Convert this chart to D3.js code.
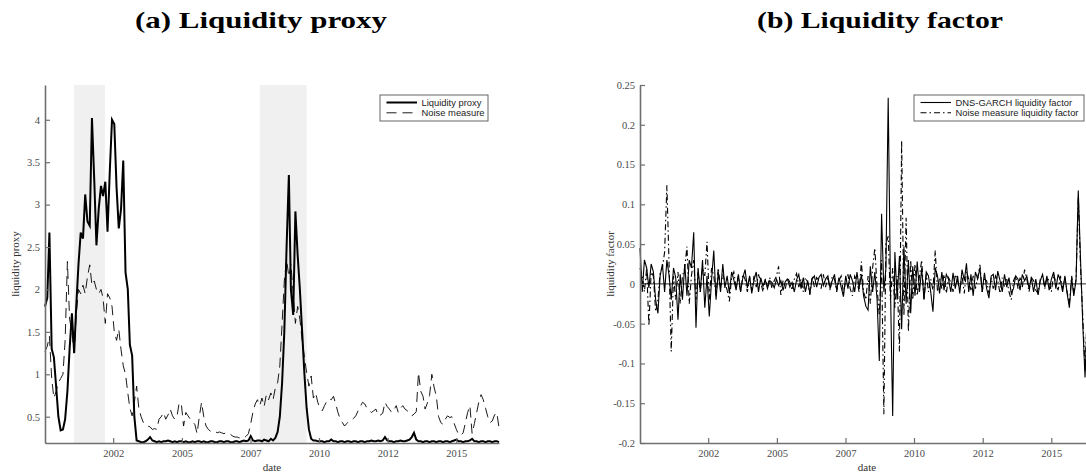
<!DOCTYPE html>
<html>
<head>
<meta charset="utf-8">
<script src="https://cdn.jsdelivr.net/npm/d3@7"></script>
<style>
  html, body { margin: 0; padding: 0; background: #fff; }
  svg { display: block; }
</style>
</head>
<body>
<svg id="fig" width="1086" height="474"></svg>
<script>
// Monthly observations, January 2000 to December 2016
const months = d3.timeMonth.range(new Date(2000, 0, 1), new Date(2017, 0, 1));

// (a) liquidity proxy and the noise measure
const liquidityProxy = [
  1.8, 1.9, 2.67, 1.3, 1.2, 0.85, 0.5, 0.34, 0.35, 0.47,
  0.8, 1.3, 1.72, 1.25, 1.8, 2.3, 2.67, 2.6, 3.12, 2.8,
  2.75, 4.02, 3.3, 2.52, 2.95, 3.22, 3.1, 3.27, 2.68, 3.4,
  4.0, 3.95, 3.2, 2.72, 2.95, 3.52, 2.2, 2.0, 1.35, 1.22,
  0.5, 0.22, 0.21, 0.2, 0.2, 0.21, 0.23, 0.26, 0.22, 0.21,
  0.2, 0.21, 0.2, 0.21, 0.21, 0.22, 0.21, 0.2, 0.21, 0.2,
  0.21, 0.21, 0.2, 0.21, 0.2, 0.2, 0.21, 0.2, 0.21, 0.21,
  0.2, 0.21, 0.2, 0.2, 0.21, 0.21, 0.2, 0.2, 0.21, 0.21,
  0.2, 0.21, 0.21, 0.2, 0.2, 0.21, 0.21, 0.2, 0.21, 0.22,
  0.21, 0.22, 0.27, 0.22, 0.21, 0.22, 0.22, 0.21, 0.23, 0.22,
  0.21, 0.24, 0.22, 0.25, 0.32, 0.5, 0.9, 1.5, 2.5, 3.35,
  2.0, 1.7, 2.92, 2.4, 2.0, 1.5, 1.0, 0.6, 0.35, 0.24,
  0.22, 0.22, 0.21, 0.21, 0.21, 0.2, 0.21, 0.21, 0.23, 0.21,
  0.21, 0.2, 0.21, 0.21, 0.2, 0.21, 0.21, 0.2, 0.21, 0.21,
  0.2, 0.21, 0.21, 0.2, 0.21, 0.21, 0.22, 0.21, 0.21, 0.22,
  0.21, 0.22, 0.26, 0.22, 0.21, 0.21, 0.2, 0.21, 0.21, 0.22,
  0.21, 0.21, 0.22, 0.23, 0.26, 0.31, 0.23, 0.21, 0.21, 0.2,
  0.21, 0.21, 0.2, 0.21, 0.21, 0.2, 0.21, 0.21, 0.2, 0.21,
  0.21, 0.2, 0.21, 0.22, 0.23, 0.21, 0.21, 0.2, 0.21, 0.21,
  0.22, 0.24, 0.21, 0.21, 0.2, 0.21, 0.21, 0.2, 0.21, 0.21,
  0.2, 0.21, 0.21, 0.2
];

const noiseMeasure = [
  1.27, 1.33, 1.45, 0.95, 0.72, 0.8, 0.9, 0.95, 1.0, 1.4,
  2.33, 1.65, 1.5, 1.25, 1.7, 2.0, 1.95, 2.05, 1.95, 2.15,
  2.29, 2.05, 2.1, 2.0, 1.95, 2.0, 1.9, 1.6, 1.95, 1.9,
  1.8, 1.5, 1.4, 1.53, 1.29, 1.1, 1.0, 0.78, 0.6, 0.51,
  0.67, 0.86, 0.6, 0.5, 0.43, 0.4, 0.39, 0.38, 0.35, 0.36,
  0.35, 0.47, 0.5, 0.55, 0.47, 0.52, 0.59, 0.51, 0.47, 0.5,
  0.67, 0.63, 0.39, 0.55, 0.51, 0.47, 0.44, 0.41, 0.3, 0.5,
  0.67, 0.5, 0.39, 0.35, 0.33, 0.32, 0.33, 0.31, 0.32, 0.31,
  0.3, 0.31, 0.31, 0.29, 0.27, 0.26, 0.26, 0.25, 0.26, 0.25,
  0.27, 0.3, 0.42, 0.55, 0.65, 0.7, 0.63, 0.72, 0.62, 0.76,
  0.7, 0.78, 0.7, 0.84, 0.9, 1.1, 1.6, 2.1, 2.35, 2.15,
  2.3, 1.95, 1.6, 1.8, 1.65, 1.4, 1.2, 1.02, 0.86, 0.98,
  0.72, 0.78, 0.67, 0.6, 0.57, 0.63, 0.68, 0.71, 0.7, 0.74,
  0.65, 0.55, 0.47, 0.43, 0.39, 0.42, 0.45, 0.46, 0.48, 0.51,
  0.57, 0.62, 0.67, 0.65, 0.6, 0.57, 0.55, 0.57, 0.59, 0.51,
  0.52, 0.54, 0.67, 0.62, 0.59, 0.55, 0.58, 0.63, 0.55, 0.6,
  0.63, 0.59, 0.57, 0.55, 0.51, 0.53, 0.56, 1.02, 0.8, 0.74,
  0.59, 0.66, 0.75, 1.0, 0.85, 0.74, 0.5, 0.43, 0.41, 0.47,
  0.51, 0.49, 0.5, 0.42, 0.35, 0.29, 0.28, 0.31, 0.43, 0.55,
  0.63, 0.3, 0.42, 0.55, 0.67, 0.76, 0.7, 0.6, 0.5, 0.43,
  0.45, 0.52, 0.55, 0.37
];

// (b) liquidity factors
const dnsFactor = [
  0.045, -0.01, 0.03, 0.02, -0.005, 0.025, 0.015, -0.02, -0.037, 0.01,
  0.025, -0.01, 0.03, 0.01, -0.02, 0.02, 0.008, -0.045, 0.012, -0.02,
  0.025, -0.015, 0.03, 0.02, 0.065, -0.055, 0.02, -0.01, 0.03, -0.03,
  0.01, -0.041, 0.005, 0.042, -0.02, 0.015, -0.01, 0.025, -0.005, 0.01,
  -0.012, 0.015, 0.005, -0.008, 0.012, -0.01, 0.008, 0.018, -0.005, 0.01,
  -0.012, 0.005, 0.015, -0.01, 0.008, -0.003, 0.005, -0.006, 0.004, 0.002,
  -0.005, 0.006, -0.002, 0.004, -0.008, 0.003, 0.006, -0.004, 0.002, -0.01,
  0.005, 0.012, -0.006, 0.008, -0.01, 0.004, -0.012, 0.006, 0.01, -0.004,
  0.008, 0.012, -0.002, 0.006, 0.01, -0.006, 0.004, 0.012, -0.008, 0.008,
  -0.004, -0.016, 0.01, -0.006, 0.012, 0.004, -0.01, 0.015, -0.005, 0.012,
  -0.015, -0.028, -0.033, 0.022, -0.01, 0.015, -0.02, -0.097, 0.088, -0.01,
  0.02, 0.234, 0.0, -0.166, 0.04, -0.02, 0.035, -0.057, 0.047, -0.025,
  0.03, -0.037, 0.022, -0.015, 0.028, -0.01, 0.02, -0.02, 0.015, 0.01,
  -0.01, -0.035, 0.02, 0.01, -0.012, 0.015, -0.008, 0.012, 0.006, -0.01,
  0.014, -0.006, 0.01, -0.012, 0.018, 0.004, 0.026, -0.01, 0.012, -0.015,
  0.015, 0.006, 0.02, -0.01, 0.014, -0.006, -0.018, 0.01, 0.012, -0.008,
  0.016, 0.004, -0.01, 0.012, -0.004, 0.008, -0.012, -0.006, 0.01, 0.006,
  -0.008, 0.012, 0.004, 0.01, -0.006, 0.008, -0.01, 0.006, -0.014, 0.004,
  0.012, -0.004, 0.01, -0.008, 0.006, 0.015, -0.006, 0.012, 0.004, -0.01,
  0.01, -0.012, -0.03, 0.008, -0.015, 0.005, 0.1175, 0.03, -0.05, -0.1175,
  -0.04, 0.02, -0.01, 0.005
];

const noiseFactor = [
  0.02, 0.01, -0.01, 0.02, -0.053, 0.015, 0.01, -0.035, -0.02, 0.015,
  0.02, 0.04, 0.124, 0.02, -0.085, 0.01, -0.02, 0.015, -0.025, 0.01,
  0.02, 0.047, -0.025, 0.01, 0.03, -0.02, 0.015, -0.01, 0.02, 0.01,
  0.053, -0.02, 0.02, 0.01, -0.015, 0.02, -0.005, 0.012, 0.003, -0.008,
  -0.022, 0.008, 0.015, -0.005, 0.01, -0.01, 0.012, 0.006, -0.01, 0.008,
  -0.008, 0.01, -0.004, 0.012, 0.002, -0.01, 0.006, -0.003, 0.008, -0.006,
  0.004, 0.01, 0.022, -0.014, 0.004, -0.006, 0.008, 0.002, -0.008, 0.006,
  0.013, -0.004, 0.006, -0.01, 0.008, 0.002, -0.014, 0.01, -0.004, 0.008,
  0.004, -0.006, 0.012, -0.004, 0.008, -0.008, 0.01, 0.006, -0.01, 0.004,
  0.01, -0.012, 0.004, 0.012, -0.006, -0.015, 0.01, 0.004, -0.01, 0.028,
  -0.01, -0.02, 0.01, -0.025, 0.02, 0.045, -0.005, -0.04, 0.03, -0.164,
  0.05, 0.06, -0.02, 0.02, -0.03, 0.01, -0.085, 0.18, -0.04, 0.083,
  -0.06, 0.03, -0.02, 0.025, -0.015, 0.01, 0.03, -0.02, 0.012, -0.01,
  0.006, -0.008, 0.042, -0.01, 0.008, -0.006, 0.012, -0.012, 0.008, 0.002,
  -0.01, 0.012, 0.004, -0.008, 0.01, -0.012, 0.016, 0.006, -0.008, 0.01,
  -0.006, 0.008, 0.024, -0.01, 0.006, 0.004, -0.012, 0.008, -0.006, 0.01,
  0.004, -0.012, 0.008, -0.004, 0.006, -0.01, -0.02, 0.004, 0.01, -0.006,
  0.008, -0.004, 0.018, 0.006, -0.01, 0.008, 0.004, -0.008, -0.012, 0.006,
  0.01, -0.006, 0.008, 0.004, -0.01, 0.012, 0.002, -0.008, 0.01, -0.006,
  0.008, -0.01, -0.025, 0.01, -0.012, 0.006, 0.11, 0.02, -0.04, -0.11,
  -0.03, 0.015, -0.008, 0.004
];

// Axis ticks and shaded periods
const xTickDates = ["2002-07-17", "2005-02-06", "2007-08-29", "2010-03-18", "2012-10-08", "2015-04-30"];
const proxyTicks = [0.5, 1, 1.5, 2, 2.5, 3, 3.5, 4];
const factorTicks = [-0.2, -0.15, -0.1, -0.05, 0, 0.05, 0.1, 0.15, 0.2, 0.25];
const shadedPeriods = [["2001-02-01", "2002-03-26"], ["2008-01-01", "2009-10-01"]];
const proxyRange = [0.19, 4.41];
const factorRange = [-0.2, 0.25];

const parseDate = d3.timeParse("%Y-%m-%d");
const svg = d3.select("#fig");

const serif = "'Liberation Serif', 'Times New Roman', serif";
const sans = "'Liberation Sans', Arial, Helvetica, sans-serif";
const axisGray = "#6f6f6f";
const labelGray = "#4a4a4a";

const plotTop = 85, plotBottom = 443, plotWidth = 454;

function drawPanel(opts) {
  const g = svg.append("g");
  const x = d3.scaleTime()
    .domain([months[0], months[months.length - 1]])
    .range([opts.left, opts.left + plotWidth]);
  const y = d3.scaleLinear().domain(opts.yDomain).range([plotBottom, plotTop]);

  // shaded periods
  (opts.shade || []).forEach(([a, b]) => {
    g.append("rect")
      .attr("x", x(parseDate(a)))
      .attr("y", plotTop)
      .attr("width", x(parseDate(b)) - x(parseDate(a)))
      .attr("height", plotBottom - plotTop)
      .attr("fill", "#f0f0f0");
  });

  // zero reference line
  if (opts.zeroLine) {
    g.append("line")
      .attr("x1", opts.left).attr("x2", opts.left + plotWidth)
      .attr("y1", y(0)).attr("y2", y(0))
      .attr("stroke", "#111").attr("stroke-width", 0.9);
  }

  // series
  opts.series.forEach(s => {
    const line = d3.line()
      .x((d, i) => x(months[i]))
      .y(d => y(d));
    g.append("path")
      .datum(s.values)
      .attr("d", line)
      .attr("fill", "none")
      .attr("stroke", "#000")
      .attr("stroke-width", s.width)
      .attr("stroke-linejoin", "miter")
      .attr("stroke-dasharray", s.dash || null);
  });

  // axes
  const xAxis = d3.axisBottom(x)
    .tickValues(xTickDates.map(parseDate))
    .tickFormat(d3.timeFormat("%Y"))
    .tickSizeInner(-5).tickSizeOuter(0).tickPadding(7);
  const yAxis = d3.axisLeft(y)
    .tickValues(opts.yTicks)
    .tickFormat(d => String(d))
    .tickSizeInner(-5).tickSizeOuter(0).tickPadding(5);

  const gx = g.append("g").attr("transform", `translate(0,${plotBottom})`).call(xAxis);
  const gy = g.append("g").attr("transform", `translate(${opts.left},0)`).call(yAxis);
  [gx, gy].forEach(a => {
    a.select(".domain").attr("stroke", axisGray).attr("stroke-width", 1.6);
    a.selectAll(".tick line").attr("stroke", axisGray).attr("stroke-width", 1.2);
    a.selectAll(".tick text")
      .attr("fill", labelGray)
      .style("font-family", serif)
      .style("font-size", "10.5px");
  });

  // axis titles
  g.append("text")
    .attr("x", opts.left + plotWidth / 2).attr("y", 471)
    .attr("text-anchor", "middle")
    .style("font-family", serif).style("font-size", "11px")
    .attr("fill", "#333")
    .text("date");
  g.append("text")
    .attr("transform", `translate(${opts.left - 26},${(plotTop + plotBottom) / 2}) rotate(-90)`)
    .attr("text-anchor", "middle")
    .style("font-family", serif).style("font-size", "11px")
    .attr("fill", "#333")
    .text(opts.yLabel);

  // panel title
  g.append("text")
    .attr("x", opts.titleX).attr("y", 28)
    .attr("text-anchor", "middle")
    .attr("textLength", opts.titleWidth)
    .attr("lengthAdjust", "spacingAndGlyphs")
    .style("font-family", serif).style("font-size", "23px").style("font-weight", "bold")
    .attr("fill", "#000")
    .text(opts.title);

  // legend
  const L = opts.legend;
  const lg = g.append("g");
  lg.append("rect")
    .attr("x", L.x).attr("y", 95).attr("width", L.w).attr("height", 26)
    .attr("fill", "#fff").attr("stroke", "#555").attr("stroke-width", 0.9);
  opts.series.forEach((s, k) => {
    const cy = 102.5 + k * 10.3;
    lg.append("line")
      .attr("x1", L.x + 6.5).attr("x2", L.x + 37)
      .attr("y1", cy).attr("y2", cy)
      .attr("stroke", "#000").attr("stroke-width", s.width)
      .attr("stroke-dasharray", s.dash || null);
    lg.append("text")
      .attr("x", L.x + 41.5).attr("y", cy + 3.3)
      .style("font-family", sans).style("font-size", "9.4px")
      .attr("fill", "#222")
      .text(s.name);
  });
}

drawPanel({
  left: 45,
  yDomain: proxyRange,
  yTicks: proxyTicks,
  yLabel: "liquidity proxy",
  title: "(a) Liquidity proxy",
  titleX: 261, titleWidth: 252,
  shade: shadedPeriods,
  legend: { x: 380, w: 108 },
  series: [
    { name: "Liquidity proxy", values: liquidityProxy, width: 2 },
    { name: "Noise measure", values: noiseMeasure, width: 0.9, dash: "10,6" }
  ]
});

drawPanel({
  left: 640,
  yDomain: factorRange,
  yTicks: factorTicks,
  yLabel: "liquidity factor",
  title: "(b) Liquidity factor",
  titleX: 880, titleWidth: 246,
  zeroLine: true,
  legend: { x: 914, w: 170 },
  series: [
    { name: "DNS-GARCH liquidity factor", values: dnsFactor, width: 1.1 },
    { name: "Noise measure liquidity factor", values: noiseFactor, width: 1.1, dash: "6,3,1.5,3" }
  ]
});
</script>
</body>
</html>
